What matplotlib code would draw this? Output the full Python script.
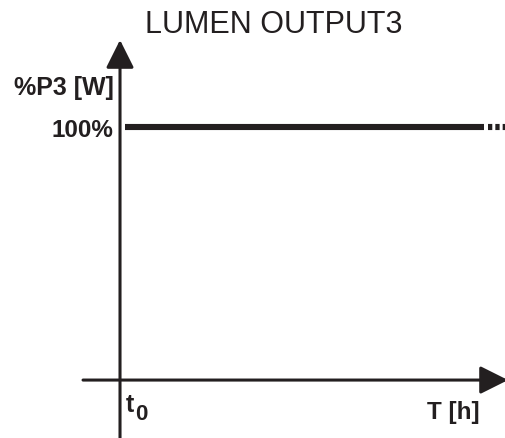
import matplotlib.pyplot as plt

plt.rcParams['font.family'] = ['Liberation Sans', 'DejaVu Sans']

ink = '#231f20'

# data (time normalised, t0 = 0)
time_solid = [0.015, 1.0]
level_solid = [100, 100]
time_cont = [1.011, 1.065]
level_cont = [100, 100]
title = "LUMEN OUTPUT3"
y_label = "%P3 [W]"
y_tick = "100%"
x_label = "T [h]"

fig = plt.figure(figsize=(5.06, 4.38), dpi=100)
ax = fig.add_axes([0, 0, 1, 1])
ax.set_xlim(-0.3297, 1.0604)
ax.set_ylim(-22.9, 150.2)
ax.axis('off')

# axes with arrow heads
ax.annotate('', xy=(0, 134.4), xytext=(0, -22.9), annotation_clip=False,
            arrowprops=dict(arrowstyle='-|>', color=ink, lw=2.2,
                            mutation_scale=43, shrinkA=0, shrinkB=0))
ax.annotate('', xy=(1.066, 0), xytext=(-0.1016, 0), annotation_clip=False,
            arrowprops=dict(arrowstyle='-|>', color=ink, lw=2.2,
                            mutation_scale=43, shrinkA=0, shrinkB=0))

# level line
ax.plot(time_solid, level_solid, color=ink, lw=4.4, solid_capstyle='butt')
ax.plot(time_cont, level_cont, color=ink, lw=4.4, dashes=(0.7, 0.5),
        dash_capstyle='butt')

fig.text(0.5415, 0.925, title, fontsize=22, ha='center', va='baseline', color=ink)
ax.text(-0.0165, 112.6, y_label, fontsize=18, fontweight='bold',
        ha='right', va='baseline', color=ink)
ax.text(-0.019, 96, y_tick, fontsize=17.5, fontweight='bold',
        ha='right', va='baseline', color=ink)
ax.text(0.0155, -12.6, "t", fontsize=18, fontweight='bold',
        ha='left', va='baseline', color=ink)
ax.text(0.041, -15.8, "0", fontsize=16, fontweight='bold',
        ha='left', va='baseline', color=ink)
ax.text(0.989, -15.4, x_label, fontsize=17.5, fontweight='bold',
        ha='right', va='baseline', color=ink)

fig.savefig('out.png', dpi=100)
